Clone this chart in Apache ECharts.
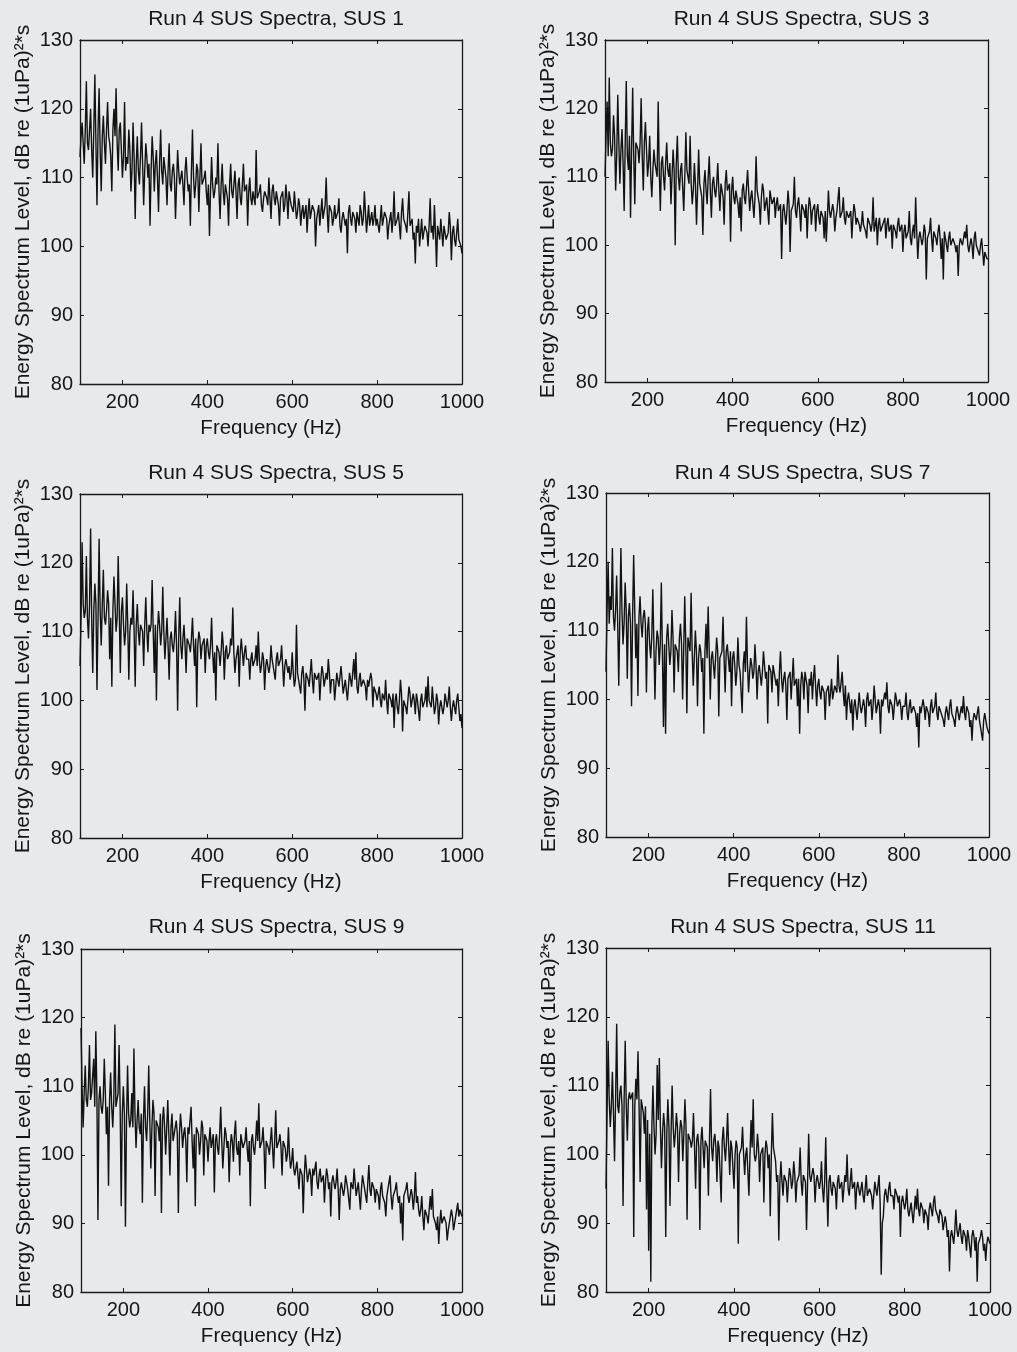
<!DOCTYPE html>
<html><head><meta charset="utf-8">
<script src="https://cdn.jsdelivr.net/npm/echarts@6/dist/echarts.min.js"></script>
<style>html,body{margin:0;padding:0;background:#e7e9eb}#c{width:1017px;height:1352px}</style>
</head><body><div id="c"></div><script>
const freqs = [
100,102.5,105,107.5,110,112.5,115,117.5,120,122.5,125,127.5,130,132.5,135,137.5,140,142.5,145,147.5,150,152.5,155,157.5,160,162.5,165,167.5,170,172.5,175,177.5,180,182.5,185,187.5,190,192.5,195,197.5,
200,202.5,205,207.5,210,212.5,215,217.5,220,222.5,225,227.5,230,232.5,235,237.5,240,242.5,245,247.5,250,252.5,255,257.5,260,262.5,265,267.5,270,272.5,275,277.5,280,282.5,285,287.5,290,292.5,295,297.5,
300,302.5,305,307.5,310,312.5,315,317.5,320,322.5,325,327.5,330,332.5,335,337.5,340,342.5,345,347.5,350,352.5,355,357.5,360,362.5,365,367.5,370,372.5,375,377.5,380,382.5,385,387.5,390,392.5,395,397.5,
400,402.5,405,407.5,410,412.5,415,417.5,420,422.5,425,427.5,430,432.5,435,437.5,440,442.5,445,447.5,450,452.5,455,457.5,460,462.5,465,467.5,470,472.5,475,477.5,480,482.5,485,487.5,490,492.5,495,497.5,
500,502.5,505,507.5,510,512.5,515,517.5,520,522.5,525,527.5,530,532.5,535,537.5,540,542.5,545,547.5,550,552.5,555,557.5,560,562.5,565,567.5,570,572.5,575,577.5,580,582.5,585,587.5,590,592.5,595,597.5,
600,602.5,605,607.5,610,612.5,615,617.5,620,622.5,625,627.5,630,632.5,635,637.5,640,642.5,645,647.5,650,652.5,655,657.5,660,662.5,665,667.5,670,672.5,675,677.5,680,682.5,685,687.5,690,692.5,695,697.5,
700,702.5,705,707.5,710,712.5,715,717.5,720,722.5,725,727.5,730,732.5,735,737.5,740,742.5,745,747.5,750,752.5,755,757.5,760,762.5,765,767.5,770,772.5,775,777.5,780,782.5,785,787.5,790,792.5,795,797.5,
800,802.5,805,807.5,810,812.5,815,817.5,820,822.5,825,827.5,830,832.5,835,837.5,840,842.5,845,847.5,850,852.5,855,857.5,860,862.5,865,867.5,870,872.5,875,877.5,880,882.5,885,887.5,890,892.5,895,897.5,
900,902.5,905,907.5,910,912.5,915,917.5,920,922.5,925,927.5,930,932.5,935,937.5,940,942.5,945,947.5,950,952.5,955,957.5,960,962.5,965,967.5,970,972.5,975,977.5,980,982.5,985,987.5,990,992.5,995,997.5,
1000];

const titles = ["Run 4 SUS Spectra, SUS 1","Run 4 SUS Spectra, SUS 3","Run 4 SUS Spectra, SUS 5",
                "Run 4 SUS Spectra, SUS 7","Run 4 SUS Spectra, SUS 9","Run 4 SUS Spectra, SUS 11"];
const xName = "Frequency (Hz)";
const yName = "Energy Spectrum Level, dB re (1uPa)\u00b2*s";
const xTicks = [200,400,600,800,1000];
const yTicks = [80,90,100,110,120,130];

const sus1 = [
113,116,118,115,112,117,124,115,114,117,120,114,110,117,125,115,106,117,123,114,108,116,119,115,112,117,121,116,115,113,108,117,120,116,123,115,111,117,118,114,
110,113,121,111,113,112,117,114,108,111,118,113,104,112,116,111,109,113,118,112,106,111,115,113,110,112,103,111,116,113,108,112,114,110,105,112,117,111,109,113,
113,110,106,111,115,109,108,111,112,110,104,109,114,111,109,110,111,109,106,111,113,110,108,109,103,111,117,110,107,109,112,111,105,110,115,109,109,110,111,108,
106,109,101.5,108,113,109,107,108,110,109,115,108,104,109,112,108,106,109,109,107,103,109,112,108,107,109,111,108,104,109,110,107,106,109,112,108,108,109,103,108,
110,107,106,108,108,106,114,107,107,108,109,106,105,107,108,108,107,106,110,107,104,108,109,107,106,108,108,106,103,107,107,108,105,106,109,107,104,108,107,106,
106,105,108,106,104,105,107,106,103,105,106,104,105,106,102,105,107,104,104,106,106,105,100,104,105,106,103,105,107,104,104,106,110,105,102,106,106,105,103,104,
106,104,104,105,107,103,102,104,105,105,103,104,99,105,106,104,103,105,105,104,102,105,104,103,106,105,103,104,108,105,102,104,106,103,104,105,103,104,106,103,
104,103,102,104,106,103,103,105,105,104,101,103,104,105,102,104,108,103,103,104,105,103,101,105,107,104,104,103,102,105,108,103,103,104,101,102,97.5,103,102,104,
100,102,104,101,101,103,103,102,100,103,107,102,103,101,106,102,97,103,102,101,104,102,100,103,103,101,101,102,105,103,98,102,103,101,100,102,104,101,101,100,
99];
const sus3 = [
110,116,121,113,124.5,115,113,114,119,116,108,113,122,115,109,114,117,112,105,115,124,113,111,116,104,114,123,113,106,115,115,114,112,115,121.5,113,108,115,118,114,
110,112,116,110,107,111,114,112,111,110,121,111,105,112,113,110,108,112,115,111,110,112,106,110,114,111,100,112,116,110,108,111,112,112,105,110,116.5,111,110,109,
116,109,106,108,112,109,103,108,114,109,108,107,101.5,109,111,108,106,110,113,108,104,109,110,108,107,109,112,108,105,109,109,107,103,109,111,108,108,109,100.5,108,
110,107,106,108,108,106,104,107,102,108,109,107,106,106,111,108,105,107,108,106,104,107,113,108,107,106,103,107,109,108,105,106,107,107,103,108,108,106,106,107,
104,106,107,105,105,106,98,105,106,106,103,105,108,106,99,105,105,106,110,105,104,106,107,105,102,106,106,105,104,106,101,105,107,106,103,105,105,106,102,105,
106,104,103,105,105,104,101,105,100.5,104,108,105,104,104,106,105,102,104,105,105,108.5,104,104,105,107,104,103,105,105,104,104,105,101,104,106,105,103,104,104,103,
102,103,105,103,103,102,101,104,104,103,102,103,107,102,103,104,100,103,104,102,102,103,103,104,101,103,104,102,102,103,99.5,103,103,102,101,103,104,102,102,103,
99,102,103,101,101,102,105,101,100,102,103,101,107,102,98,101,102,102,100,101,103,102,95,101,101,102,104,101,99,102,102,101,100,102,103,101,98,101,95,102,
101,100,99,101,102,100,100,101,101,100,99,100,95.5,100,101,101,100,100,102,101,103,100,99,100,101,100,98,101,102,100,100,99,98.5,100,101,99,97,99,99,98,
98];
const sus5 = [
105,112,123,114,112,113,121,112,109,114,125,112,104,113,117,114,101.5,112,123.5,113,108,114,119,112,111,113,116,114,106,112,102,113,118,114,110,112,121,113,104,113,
115,111,108,110,117,111,103,110,112,111,116,110,102,111,114,110,108,111,111,110,105,111,115,110,107,111,110,111,117.5,110,104,111,100,110,113,111,108,110,116.5,110,
106,109,112,108,103,109,110,108,107,109,113,108,98.5,109,115,108,106,109,111,108,104,109,109,108,107,109,112,108,105,109,99,108,110,109,106,108,108,109,104,108,
109,107,106,108,112,107,104,107,100,108,108,107,105,107,110,108,103,107,108,106,106,107,109,108,113.5,107,104,106,107,108,102,107,109,107,105,107,108,106,106,106,
103,106,107,105,105,106,108,105,110,106,104,105,107,106,101.5,105,106,106,104,105,108,106,105,105,103,106,107,105,105,106,108,105,102,105,106,106,104,105,103,104,
107,104,102,103,111,104,103,103,101,104,105,103,98.5,104,104,103,102,104,106,103,101,104,104,103,103,104,100,103,105,104,102,103,104,103,106,104,101,103,103,103,
100,102,104,103,102,102,105,103,101,102,103,103,100,102,104,103,102,102,106,103,107,102,101,103,104,102,102,103,103,102,100,103,102,102,104,103,99,102,102,101,
100,101,102,100,99,101,101,100,103,100,98,101,101,100,99,101,96,100,101,99,98,100,103,101,95.5,100,100,99,98,100,102,101,99,100,101,100,98,101,100,100,
97,100,101,99,99,100,102,99,103.5,100,100,99,102,100,98,99,101,100,96.5,99,100,100,98,99,101,100,99,100,102,99,97,99,100,99,98,100,101,99,97,98,
96];
const sus7 = [
104,113,120,111,115,113,122,112,110,113,118,111,102,112,122,113,108,111,117,113,103,112,114,111,99,112,121,113,106,111,100.5,112,115,111,109,112,113,111,101,110,
112,108,106,109,116,108,100,107,110,109,105,108,117,107,96,108,95,109,111,108,105,107,113,109,101,108,108,107,104,109,111,108,100,107,115,108,98,109,108,107,
115.5,107,102,106,110,107,99,106,108,107,104,106,95,107,111,106,113.5,107,100,106,107,107,103,106,109,107,97.5,106,106,107,112,106,101,107,108,106,104,107,99,106,
107,105,102,104,109,105,104,104,98,105,107,104,112,105,101,104,106,105,103,104,108,105,100,104,105,105,102,104,107,105,103,104,96.5,105,105,104,101,105,104,104,
102,103,99,104,107,103,101,103,104,102,97,103,103,104,100,103,106,102,102,103,99,103,95,102,104,103,100,104,103,102,98,103,102,104,100,103,105,102,99,102,
103,101,100,102,102,101,97,101,101,102,99,101,103,100,100,102,102,101,106.5,102,101,101,104,101,99,102,97,100,101,101,98,100,95.5,99,100,100,97,99,101,99,
98,99,100,99,96,100,101,99,99,100,97,99,102,100,98,99,100,99,95,100,99,99,101,100,102.5,99,98,100,100,99,97,99,101,100,99,99,100,99,97,99,
99,99,101,98,97,99,100,98,98,99,99,98,96,98,93,99,98,98,100,99,97,99,99,98,96,99,100,98,98,99,101,98,97,99,99,98,98,97,96,98,
99,98,97,99,100,98,98,97,96,98,99,98,97,98,99,98,100.5,98,97,99,99,98,96,97,94,97,98,98,97,98,99,97,96,96,94,97,98,97,96,96,
95];
const sus9 = [
118.5,110,104,109,113,108,107,110,116,108,109,109,114,107,118,109,90.5,108,110,107,106,108,114,109,103,107,95.5,108,112,107,104,108,119,107,107,109,116,107,92.5,106,
110,106,89.5,105,113,106,104,105,109,104,115.5,106,101,105,108,104,103,106,93,105,110,104,102,106,113,105,98,104,108,106,94,105,105,104,102,106,91.5,105,107,104,
100,104,108,103,97,104,106,102,102,104,105,103,91.5,103,106,104,101,103,104,102,96,104,103,103,107,102,98,103,92.5,104,104,103,100,102,105,104,97,103,103,102,
99,102,104,101,101,103,94.5,102,103,101,100,103,107,102,98,101,104,103,101,102,96,101,103,102,99,103,105,101,100,102,97,103,103,101,101,102,104,101,99,102,
92.5,102,103,101,100,102,105,102,107.5,101,101,102,104,101,95,102,102,101,100,102,104,101,98,102,106.5,101,101,102,103,101,97,102,102,101,99,100,104,100,98,99,
101,98,97,98,99,97,95,98,98,97,91.5,97,100,98,96,97,98,97,94,98,97,97,99,96,95,97,98,96,96,97,93,96,98,97,95,96,91,96,97,96,
95,96,98,95,90.5,95,96,96,94,95,97,96,95,95,92,96,96,95,98,96,94,95,96,96,92,95,97,96,95,95,93,96,98.5,95,94,96,96,95,93,95,
95,94,92,95,96,94,94,93,91,94,95,95,97,94,92,94,94,95,96,94,93,94,90,93,87.5,94,94,95,96,94,93,94,95,94,92,94,97.5,93,94,92,
91,92,94,91,89,92,92,91,90,92,94,92,95,91,91,90,89,91,87,90,92,90,90,91,91,90,87.5,89,90,90,92,91,89,90,91,92,93,91,92,92,
91];
const sus11 = [
95,106,116.5,108,104,107,112,106,99,108,119,107,106,109,110,107,92.5,108,116.5,107,102,108,109,108,108,109,88,107,111,108,115,107,96,108,108,106,103,107,92,105,
86,103,81.5,104,110,104,100,103,113,105,114,104,98,103,106,104,88,103,108,104,92.5,103,110,104,101,103,106,104,96,103,105,104,99,103,108,104,90.5,103,103,102,
101,102,106,101,95,102,103,101,89,102,104,101,98,102,102,101,94,102,109.5,101,99,102,103,101,96,102,101,101,93,102,104,101,99,102,106,101,97,102,101,101,
95,100,102,101,87,100,100,101,104,100,97,100,101,101,94,100,105,101,108,100,99,100,103,101,96,100,100,101,93,100,102,101,98,100,91,100,106,101,100,99,
96,97,87.5,96,99,96,94,97,97,96,93,96,98,97,95,96,99,97,93,96,96,97,101,96,94,97,97,96,89,96,103,97,96,96,98,97,93,96,97,96,
95,96,99,95,93,96,102.5,95,89.5,96,97,95,94,96,96,95,92,96,97,95,95,96,93,95,97,96,100,95,94,96,98,95,95,96,92,95,96,95,94,95,
96,94,93,95,97,94,94,95,95,94,92,94,96,95,94,94,97,93,82.5,90,91,94,95,94,93,95,96,94,94,94,92,95,95,94,93,94,88,93,94,94,
92,93,95,92,91,92,93,93,90,92,94,92,95,92,91,93,93,92,90,92,92,91,89,92,93,92,91,93,94,92,92,91,90,92,92,91,89,90,91,90,
88,89,83,88,89,88,87,89,92,89,88,89,90,88,87,89,89,88,86,89,88,88,85,88,89,88,86,88,81.5,87,87,88,89,88,86,87,84.5,87,88,88,
87];

const seriesValues = [sus1, sus3, sus5, sus7, sus9, sus11];

const grids = [
  {left:80, top:40, width:382, height:344},
  {left:605, top:40, width:383, height:342},
  {left:80, top:494, width:382, height:344},
  {left:606, top:493, width:383, height:344},
  {left:81, top:949, width:381, height:343},
  {left:606, top:948, width:384, height:344}
];
const titleTops = [4, 4, 458, 458, 912, 912];

const FONT = "'Liberation Sans', Arial, sans-serif";
const TXT = '#161616';
const AX = '#1a1a1a';

const chart = echarts.init(document.getElementById('c'), null, {renderer:'canvas'});
const xAxes = [], yAxes = [], series = [], title = [];
grids.forEach((g, i) => {
  title.push({text: titles[i], left: g.left + g.width/2, top: titleTops[i], textAlign:'center',
    textStyle:{fontSize:21, fontWeight:'normal', color:TXT, fontFamily:FONT}});
  const common = {gridIndex:i, type:'value', min:100, max:1000,
    axisLine:{show:true, onZero:false, lineStyle:{color:AX, width:1.3}},
    axisTick:{show:true, inside:true, length:4, customValues:xTicks, lineStyle:{color:AX}},
    splitLine:{show:false}};
  xAxes.push(Object.assign({}, common, {position:'bottom',
    axisLabel:{show:true, customValues:xTicks, fontSize:20, color:TXT, fontFamily:FONT, margin:8,
      formatter: v => String(v)},
    name:xName, nameLocation:'middle', nameGap:34,
    nameTextStyle:{fontSize:20.5, color:TXT, fontFamily:FONT}}));
  xAxes.push(Object.assign({}, common, {position:'top', axisLabel:{show:false}}));
  const ycommon = {gridIndex:i, type:'value', min:80, max:130, interval:10,
    axisLine:{show:true, onZero:false, lineStyle:{color:AX, width:1.3}},
    axisTick:{show:true, inside:true, length:4, lineStyle:{color:AX}},
    splitLine:{show:false}};
  yAxes.push(Object.assign({}, ycommon, {position:'left',
    axisLabel:{show:true, fontSize:20, color:TXT, fontFamily:FONT, margin:7,
      formatter: v => yTicks.includes(v) ? String(v) : ''},
    name:yName, nameLocation:'middle', nameGap:46,
    nameTextStyle:{fontSize:21, color:TXT, fontFamily:FONT}}));
  yAxes.push(Object.assign({}, ycommon, {position:'right', axisLabel:{show:false}}));
  series.push({type:'line', xAxisIndex:2*i, yAxisIndex:2*i, showSymbol:false, symbol:'none',
    lineStyle:{width:1.4, color:'#121212'}, animation:false,
    data: seriesValues[i].map((v, k) => [freqs[k], v])});
});

chart.setOption({
  backgroundColor:'#e7e9eb',
  animation:false,
  title, grid: grids.map(g => Object.assign({containLabel:false}, g)),
  xAxis:xAxes, yAxis:yAxes, series
});
</script></body></html>
